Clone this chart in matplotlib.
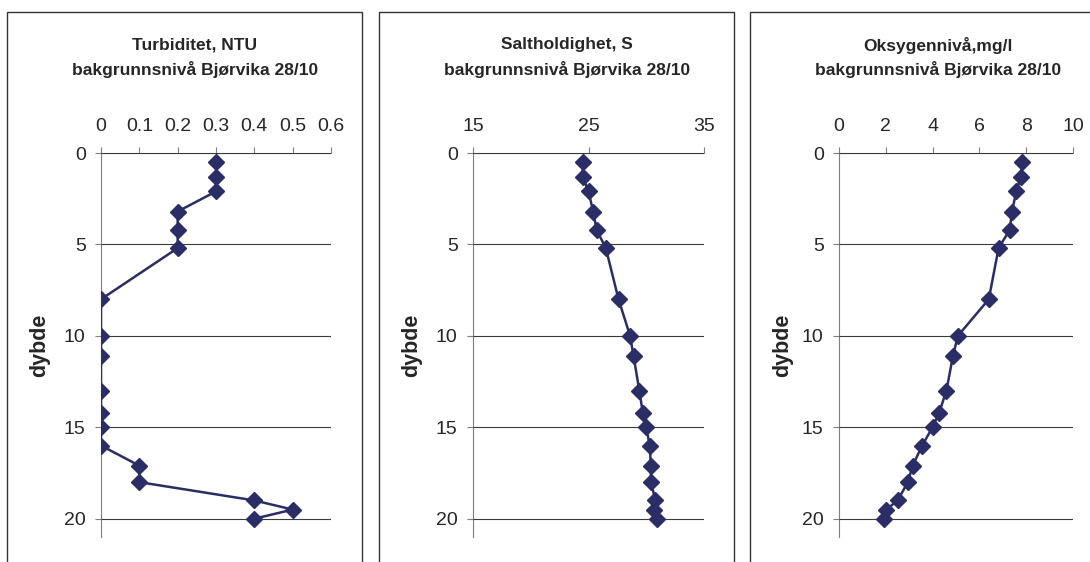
import matplotlib.pyplot as plt
from matplotlib.patches import Rectangle

plt.rcParams['font.family'] = ['Liberation Sans', 'DejaVu Sans']

# dybde (m) for alle tre profiler
dybde = [0.5, 1.3, 2.1, 3.2, 4.2, 5.2, 8, 10, 11.1, 13, 14.2, 15, 16, 17.1, 18, 19, 19.5, 20]

turbiditet = [0.3, 0.3, 0.3, 0.2, 0.2, 0.2, 0, 0, 0, 0, 0, 0, 0, 0.1, 0.1, 0.4, 0.5, 0.4]
salt = [24.5, 24.5, 25.0, 25.4, 25.7, 26.5, 27.6, 28.6, 28.9, 29.4, 29.7, 30.0,
        30.3, 30.4, 30.4, 30.8, 30.7, 30.9]
oksygen = [7.84, 7.77, 7.58, 7.39, 7.30, 6.82, 6.40, 5.08, 4.87, 4.59, 4.28, 4.0,
           3.55, 3.15, 2.94, 2.51, 2.02, 1.91]

titler = ['Turbiditet, NTU', 'Saltholdighet, S', 'Oksygennivå,mg/l']
undertittel = 'bakgrunnsnivå Bjørvika 28/10'

xticks_turb = [0, 0.1, 0.2, 0.3, 0.4, 0.5, 0.6]
xlabels_turb = ['0', '0.1', '0.2', '0.3', '0.4', '0.5', '0.6']
xticks_salt = [15, 25, 35]
xticks_oks = [0, 2, 4, 6, 8, 10]
yticks = [0, 5, 10, 15, 20]

W, H = 1090, 562
linjefarge = '#2b2d66'
tekstfarge = '#262626'

fig = plt.figure(figsize=(W / 100, H / 100), dpi=100)

# (ramme venstre, ramme hoyre, akse venstre, akse hoyre) i piksler
paneler = [(7, 362, 101, 331), (379, 734, 473, 704), (750, 1105, 839, 1073)]
data = [turbiditet, salt, oksygen]
xt = [xticks_turb, xticks_salt, xticks_oks]
xl = [xlabels_turb, [str(v) for v in xticks_salt], [str(v) for v in xticks_oks]]

for i in range(3):
	r0, r1, a0, a1 = paneler[i]
	fig.add_artist(Rectangle((r0 / W, -0.1), (r1 - r0) / W, 1.1 - 12 / H,
	                         transform=fig.transFigure, fill=False,
	                         edgecolor='#333333', lw=1.0))
	ax = fig.add_axes([a0 / W, 1 - 537 / H, (a1 - a0) / W, (537 - 153) / H])
	ax.plot(data[i], dybde, color=linjefarge, lw=1.8, marker='D',
	        markersize=7.8, markerfacecolor=linjefarge, markeredgecolor=linjefarge)
	ax.set_ylim(21, 0)
	ax.set_xlim(xt[i][0], xt[i][-1])
	ax.set_xticks(xt[i])
	ax.set_xticklabels(xl[i])
	ax.set_yticks(yticks)
	ax.xaxis.tick_top()
	ax.spines['right'].set_visible(False)
	ax.spines['bottom'].set_visible(False)
	ax.spines['top'].set_color('#7f7f7f')
	ax.spines['left'].set_color('#7f7f7f')
	ax.grid(axis='y', color='#3a3a3a', lw=0.8)
	ax.grid(axis='x', visible=False)
	ax.tick_params(direction='out', length=4.5, width=0.8, color='#7f7f7f',
	               labelsize=14, labelcolor=tekstfarge)
	ax.tick_params(axis='x', pad=8.5)
	ax.tick_params(axis='y', pad=6.5)
	ax.set_axisbelow(True)
	for s in ax.spines.values():
		s.set_zorder(0.5)

	midt = (r0 + 188) / W
	fig.text(midt, 1 - 45 / H, titler[i], ha='center', va='center',
	         fontsize=12.5, fontweight='bold', color=tekstfarge)
	fig.text(midt, 1 - 70 / H, undertittel, ha='center', va='center',
	         fontsize=12.5, fontweight='bold', color=tekstfarge)
	fig.text((r0 + 33) / W, 1 - 345 / H, 'dybde', rotation=90, ha='center',
	         va='center', fontsize=15.5, fontweight='bold', color=tekstfarge)

fig.savefig('out.png', dpi=100)
